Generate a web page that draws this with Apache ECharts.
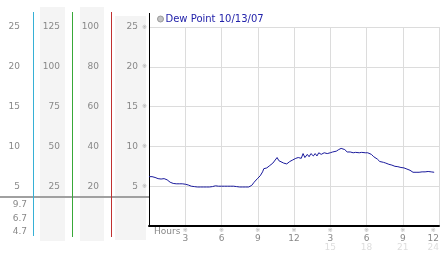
<!DOCTYPE html>
<html><head><meta charset="utf-8">
<script src="https://cdn.jsdelivr.net/npm/echarts@6/dist/echarts.min.js"></script>
<style>html,body{margin:0;padding:0;background:#fff}#c{width:442px;height:253px}</style>
</head><body><div id="c"></div>
<script>
const seriesName = 'Dew Point 10/13/07';
const hours = [0,0.25,0.5,0.75,1,1.25,1.5,1.75,2,2.25,2.5,2.75,3,3.25,3.5,3.75,4,4.25,4.5,4.75,5,5.25,5.4,5.5,5.75,6,6.25,6.5,6.75,7,7.25,7.5,7.75,8,8.25,8.5,8.7,9,9.2,9.4,9.5,9.75,10,10.25,10.4,10.6,10.75,10.9,11.15,11.4,11.65,11.9,12.15,12.35,12.6,12.75,12.9,13.1,13.25,13.4,13.6,13.75,13.9,14.05,14.25,14.5,14.75,15,15.2,15.5,15.7,15.9,16.05,16.2,16.4,16.65,16.9,17.1,17.4,17.6,17.9,18.1,18.4,18.6,18.9,19.1,19.4,19.6,19.85,20.1,20.35,20.6,20.85,21.1,21.35,21.6,21.85,22.1,22.35,22.6,22.85,23.1,23.35,23.6];
const dewPoint = [6.2,6.2,6.1,5.95,5.9,5.95,5.8,5.5,5.35,5.3,5.3,5.3,5.25,5.15,5.0,4.95,4.9,4.9,4.9,4.9,4.9,4.95,5.2,5.05,5.0,5.0,5.0,5.0,5.0,5.0,4.95,4.9,4.9,4.9,4.9,5.1,5.5,6.0,6.3,6.8,7.2,7.3,7.6,7.9,8.1,8.6,8.2,8.1,7.9,7.8,8.1,8.3,8.5,8.6,8.5,9.1,8.6,9.0,8.7,9.1,8.8,9.1,8.8,9.2,9.0,9.2,9.1,9.2,9.3,9.4,9.6,9.75,9.5,9.6,9.3,9.3,9.2,9.25,9.2,9.25,9.2,9.2,9.0,8.7,8.4,8.1,8.0,7.9,7.75,7.65,7.5,7.45,7.35,7.3,7.15,7.0,6.75,6.75,6.75,6.8,6.8,6.85,6.8,6.75];
const hourTicks = [0,3,6,9,12,15,18,21,24];
const mainTicks = [0,5,10,15,20,25];
const colATicks = [0,5,10,15,20,25];
const colBTicks = [0,25,50,75,100,125];
const colCTicks = [0,20,40,60,80,100];
const currentValues = ['9.7','6.7','4.7'];
const xName = 'Hours';

const FONT = 'DejaVu Sans';
const LABEL = '#888';
const GRIDC = '#dcdcdc';
const chart = echarts.init(document.getElementById('c'));

function labelAxis(gi, ticks, margin) {
  return {gridIndex: gi, type: 'value', min: ticks[0], max: ticks[ticks.length-1], interval: ticks[1]-ticks[0],
    axisLine: {show: false}, axisTick: {show: false}, splitLine: {show: false},
    axisLabel: {margin, color: LABEL, fontSize: 9, fontFamily: FONT, formatter: v => v === 0 ? '' : String(v)}};
}
const grids = [
  {left: 149, right: 3, top: 27, bottom: 27},
  {left: 33, width: 10, top: 27, bottom: 27},
  {left: 72, width: 10, top: 27, bottom: 27},
  {left: 111, width: 10, top: 27, bottom: 27}
];
const xAxes = [{
  gridIndex: 0, type: 'value', min: hourTicks[0], max: hourTicks[hourTicks.length-1], interval: hourTicks[1]-hourTicks[0],
  axisLine: {show: true, lineStyle: {color: '#000', width: 2}}, axisTick: {show: false},
  splitLine: {show: true, lineStyle: {color: GRIDC, width: 1}},
  axisLabel: {margin: 0, alignMaxLabel: 'right', formatter: v => {
      if (v === 0) return '';
      const h = v % 12 === 0 ? 12 : v % 12;
      let s = '{m|※}\n{n|' + h + '}';
      if (v > 12) s += '\n{s|' + v + '}';
      return s;
    },
    rich: {m: {fontSize: 6, lineHeight: 8, color: '#aaa', fontFamily: FONT, align: 'center'},
           n: {fontSize: 9, lineHeight: 9, color: LABEL, fontFamily: FONT, align: 'center'},
           s: {fontSize: 9, lineHeight: 9, color: '#ddd', fontFamily: FONT, align: 'center'}}}
}];
for (let i = 1; i < grids.length; i++) xAxes.push({gridIndex: i, type: 'value', min: 0, max: 1, show: false});
const yAxes = [{
  gridIndex: 0, type: 'value', min: mainTicks[0], max: mainTicks[mainTicks.length-1], interval: mainTicks[1]-mainTicks[0],
  axisLine: {show: true, lineStyle: {color: '#000', width: 1}}, axisTick: {show: false},
  splitLine: {show: true, lineStyle: {color: GRIDC, width: 1}},
  axisLabel: {margin: 2, formatter: v => v === 0 ? '' : '{v|' + v + '}{m|※}',
    rich: {v: {fontSize: 9, color: LABEL, fontFamily: FONT, padding: [0, 4, 0, 0]},
           m: {fontSize: 6, color: '#aaa', fontFamily: FONT}}}
},
  labelAxis(1, colATicks, 13),
  labelAxis(2, colBTicks, 12),
  labelAxis(3, colCTicks, 12)
];

const vline = (x, y1, y2, stroke) => ({type: 'line', z: 2, shape: {x1: x + 0.5, y1, x2: x + 0.5, y2}, style: {stroke, lineWidth: 1}});
const graphics = [
  {type: 'rect', z: -1, shape: {x: 40, y: 7, width: 25, height: 234}, style: {fill: '#f4f4f4'}},
  {type: 'rect', z: -1, shape: {x: 80, y: 7, width: 24, height: 234}, style: {fill: '#f4f4f4'}},
  {type: 'rect', z: -1, shape: {x: 115, y: 16, width: 31, height: 224}, style: {fill: '#f4f4f4'}},
  {type: 'line', z: 1, shape: {x1: 0, y1: 197, x2: 149, y2: 197}, style: {stroke: '#a0a0a0', lineWidth: 2}},
  vline(33, 12, 236, '#36b0d6'),
  vline(72, 12, 237, '#38a838'),
  vline(111, 12, 237, '#c03030'),
  vline(149, 13, 28, '#000'),
  {type: 'text', x: 154, y: 232, style: {text: xName, fill: LABEL, font: '9px "DejaVu Sans"', verticalAlign: 'middle', align: 'left'}}
];
currentValues.forEach((t, i) => graphics.push({type: 'text', x: 27, y: 205 + i * 13.5,
  style: {text: t, fill: LABEL, font: '9px "DejaVu Sans"', align: 'right', verticalAlign: 'middle'}}));

chart.setOption({
  animation: false,
  grid: grids,
  xAxis: xAxes,
  yAxis: yAxes,
  legend: {left: 157, top: 14, itemWidth: 6, itemHeight: 6, padding: 0,
    textStyle: {color: '#2222aa', fontSize: 10, fontFamily: FONT, padding: [0, 0, 0, -3]},
    data: [{name: seriesName, icon: 'circle', itemStyle: {color: '#c4c4c4', borderColor: '#999', borderWidth: 1}}]},
  graphic: graphics,
  series: [{name: seriesName, type: 'line', xAxisIndex: 0, yAxisIndex: 0, showSymbol: false, symbol: 'none',
    color: '#1a1a9c', lineStyle: {color: '#1a1a9c', width: 1},
    data: hours.map((h, i) => [h, dewPoint[i]])}]
});
</script></body></html>
